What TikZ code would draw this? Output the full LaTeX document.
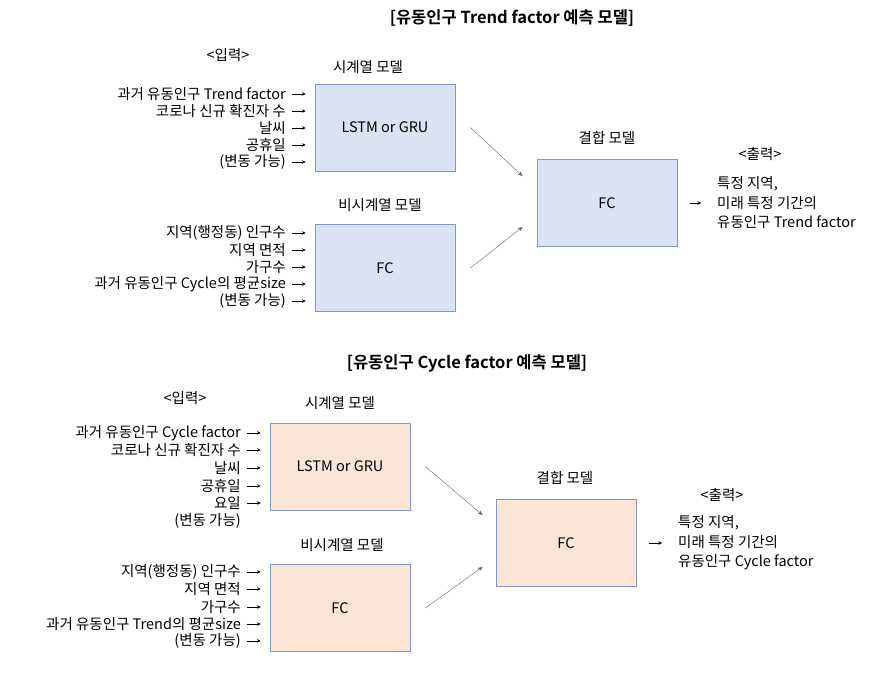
\documentclass[tikz,border=0pt]{standalone}
\usepackage{fontspec}
\setmainfont{Noto Sans CJK KR}[BoldFont={Noto Sans CJK KR Bold}]
\usepackage{tikz}
\usetikzlibrary{arrows.meta}
\definecolor{trendfill}{HTML}{DAE3F3}
\definecolor{cyclefill}{HTML}{FBE5D6}
\definecolor{boxline}{HTML}{8296C0}
\tikzstyle{model} = [draw=boxline, line width=0.8pt, minimum width=140pt, minimum height=87pt, inner sep=0pt]
\tikzstyle{inp} = [anchor=east, inner sep=1pt]
\tikzstyle{feed} = [-{Stealth[length=3.5pt,width=3.5pt]}, line width=0.5pt, shorten <=5pt, shorten >=9pt]
\tikzstyle{mergeline} = [-{Stealth[length=5pt,width=4pt]}, gray!80!black, line width=0.4pt]
\tikzstyle{outtxt} = [anchor=west, align=left, inner sep=1pt, font=\fontsize{14.5}{19.5}\selectfont]
\tikzstyle{title} = [font=\fontsize{16.5}{19}\selectfont\bfseries]

\begin{document}
\begin{tikzpicture}[x=1pt,y=-1pt,font=\fontsize{14.5}{17}\selectfont]
			\useasboundingbox (0,0) rectangle (876,677);
			% Trend factor
			\node[title] (ttitle) at (512,18) {[유동인구 Trend factor 예측 모델]};
			\node (tin) at (228,55) {<입력>};
			\node (tlstmlbl) at (368,67) {시계열 모델};
			\node[model,fill=trendfill] (tlstm) at (385,127.5) {LSTM or GRU};
			\node (tfclbl) at (380,205) {비시계열 모델};
			\node[model,fill=trendfill] (tfc) at (385,268) {FC};
			\node (tcomblbl) at (607,138) {결합 모델};
			\node[model,fill=trendfill] (tcomb) at (607,203) {FC};
			\node (tout) at (760,154) {<출력>};
			\node[outtxt] (toutv) at (716,203) {특정 지역,\\미래 특정 기간의\\유동인구 Trend factor};
			\node[inp] (ta1) at (287,94) {과거 유동인구 Trend factor};
			\node[inp] (ta2) at (287,111) {코로나 신규 확진자 수};
			\node[inp] (ta3) at (287,128) {날씨};
			\node[inp] (ta4) at (287,145) {공휴일};
			\node[inp] (ta5) at (287,162) {(변동 가능)};
			\node[inp] (tb1) at (287,233) {지역(행정동) 인구수};
			\node[inp] (tb2) at (287,250) {지역 면적};
			\node[inp] (tb3) at (287,267) {가구수};
			\node[inp] (tb4) at (287,284) {과거 유동인구 Cycle의 평균size};
			\node[inp] (tb5) at (287,301) {(변동 가능)};
			\foreach \i in {a1,a2,a3,a4,a5}
				\draw[feed] (t\i.east) -- (t\i.east -| tlstm.west);
			\foreach \i in {b1,b2,b3,b4,b5}
				\draw[feed] (t\i.east) -- (t\i.east -| tfc.west);
			\draw[mergeline] ([xshift=15pt]tlstm.east) -- ([xshift=-14pt,yshift=-17pt]tcomb.north west);
			\draw[mergeline] ([xshift=15pt]tfc.east) -- ([xshift=-14pt,yshift=20pt]tcomb.south west);
			\draw[feed,shorten <=13pt,shorten >=15pt] (tcomb.east) -- (tcomb.east -| toutv.west);
			% Cycle factor
			\node[title] (ctitle) at (467,363) {[유동인구 Cycle factor 예측 모델]};
			\node (cin) at (185,398) {<입력>};
			\node (clstmlbl) at (340,403) {시계열 모델};
			\node[model,fill=cyclefill] (clstm) at (340,466.5) {LSTM or GRU};
			\node (cfclbl) at (342,545) {비시계열 모델};
			\node[model,fill=cyclefill] (cfc) at (340,608) {FC};
			\node (ccomblbl) at (565,478) {결합 모델};
			\node[model,fill=cyclefill] (ccomb) at (566,543) {FC};
			\node (cout) at (722,495) {<출력>};
			\node[outtxt] (coutv) at (677,543) {특정 지역,\\미래 특정 기간의\\유동인구 Cycle factor};
			\node[inp] (ca1) at (242,433) {과거 유동인구 Cycle factor};
			\node[inp] (ca2) at (242,450) {코로나 신규 확진자 수};
			\node[inp] (ca3) at (242,468) {날씨};
			\node[inp] (ca4) at (242,486) {공휴일};
			\node[inp] (ca5) at (242,503) {요일};
			\node[inp] (ca6) at (242,521) {(변동 가능)};
			\node[inp] (cb1) at (242,572) {지역(행정동) 인구수};
			\node[inp] (cb2) at (242,589) {지역 면적};
			\node[inp] (cb3) at (242,607) {가구수};
			\node[inp] (cb4) at (242,624) {과거 유동인구 Trend의 평균size};
			\node[inp] (cb5) at (242,641) {(변동 가능)};
			\foreach \i in {a1,a2,a3,a4,a5}
				\draw[feed] (c\i.east) -- (c\i.east -| clstm.west);
			\foreach \i in {b1,b2,b3,b4,b5}
				\draw[feed] (c\i.east) -- (c\i.east -| cfc.west);
			\draw[mergeline] ([xshift=15pt]clstm.east) -- ([xshift=-13pt,yshift=-16pt]ccomb.north west);
			\draw[mergeline] ([xshift=15pt]cfc.east) -- ([xshift=-13pt,yshift=20pt]ccomb.south west);
			\draw[feed,shorten <=13pt,shorten >=15pt] (ccomb.east) -- (ccomb.east -| coutv.west);
		\end{tikzpicture}
\end{document}
